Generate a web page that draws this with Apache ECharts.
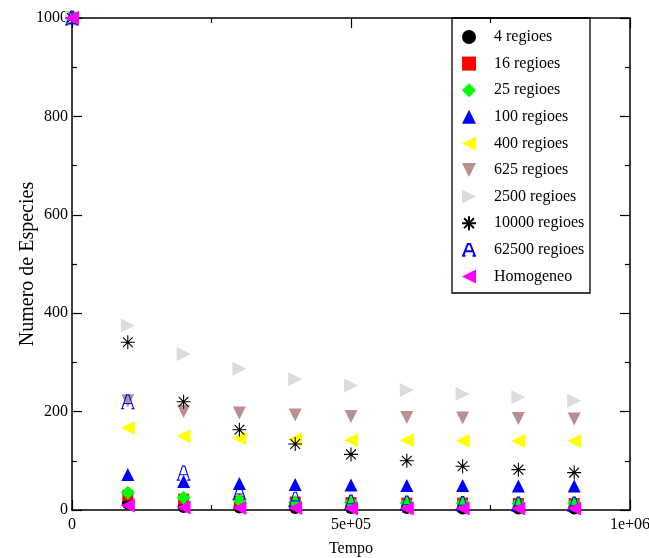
<!DOCTYPE html>
<html><head><meta charset="utf-8">
<script src="https://cdn.jsdelivr.net/npm/echarts@6/dist/echarts.min.js"></script>
<style>html,body{margin:0;padding:0;background:#fff;overflow:hidden}#c{width:649px;height:558px}</style>
</head><body><div id="c"></div><script>
const time = [0, 100000, 200000, 300000, 400000, 500000, 600000, 700000, 800000, 900000];
const s4 = [1000, 13, 6, 5, 4, 4, 4, 3, 3, 3];
const s16 = [1000, 30, 22, 18, 16, 15, 14, 14, 13, 13];
const s25 = [1000, 35, 25, 20, 16, 15, 14, 14, 13, 13];
const s100 = [1000, 72, 58, 54, 52, 51, 50, 50, 49, 49];
const s400 = [1000, 167, 150, 146, 144, 142, 142, 141, 140, 140];
const s625 = [1000, 222, 200, 197, 193, 190, 188, 187, 186, 185];
const s2500 = [1000, 375, 317, 287, 266, 253, 244, 236, 229, 222];
const s10000 = [1000, 341, 220, 163, 134, 113, 100, 89, 82, 76];
const s62500 = [1000, 220, 75, 36, 22, 16, 14, 13, 12, 12];
const homog = [1000, 9, 5, 4, 4, 3, 3, 3, 3, 3];
const seriesNames = ['4 regioes','16 regioes','25 regioes','100 regioes','400 regioes','625 regioes','2500 regioes','10000 regioes','62500 regioes','Homogeneo'];
const xTickValues = [0, 500000, 1000000];
const xTickLabels = ['0', '5e+05', '1e+06'];

const FONT = '"Liberation Serif", "DejaVu Serif", serif';
const pts = arr => time.map((t, i) => [t, arr[i]]);
const LEFT = 'path://M0,5 L10,0 L10,10 Z';
const RIGHT = 'path://M0,0 L10,5 L0,10 Z';
const DOWN = 'path://M0,0 L10,0 L5,10 Z';
const STAR = 'path://M5,0 L5,10 M0,5 L10,5 M1.5,1.5 L8.5,8.5 M8.5,1.5 L1.5,8.5';
const LETTER_A = 'path://M0,10 L4,0 L6,0 L10,10 M2,6.2 L8,6.2 M-1,10 L2,10 M8,10 L11,10';

const defs = [
  {data: s4, symbol: 'circle', size: 12, color: '#000000'},
  {data: s16, symbol: 'rect', size: 11, color: '#ff0000'},
  {data: s25, symbol: 'diamond', size: 14, color: '#00ff00'},
  {data: s100, symbol: 'triangle', size: 13, color: '#0000ff'},
  {data: s400, symbol: LEFT, size: 14, color: '#ffff00'},
  {data: s625, symbol: DOWN, size: 13, color: '#bc8f8f'},
  {data: s2500, symbol: RIGHT, size: 14, color: '#dcdcdc'},
  {data: s10000, symbol: STAR, size: 14, color: '#000000', stroke: true},
  {data: s62500, symbol: LETTER_A, size: 14, color: '#0000ff', stroke: true},
  {data: homog, symbol: LEFT, size: 14, color: '#ff00ff'}
];

const series = defs.map((d, i) => ({
  name: seriesNames[i],
  type: 'scatter',
  data: pts(d.data),
  symbol: d.symbol,
  symbolSize: d.size,
  itemStyle: d.stroke ? {color: 'rgba(0,0,0,0)', borderColor: d.color, borderWidth: 1.1, opacity: 1}
                      : {color: d.color, opacity: 1},
  emphasis: {disabled: true},
  z: 2 + i
}));

const axisCommon = {
  axisLine: {show: true, onZero: false, lineStyle: {color: '#000', width: 1.5}},
  axisTick: {show: true, inside: true, length: 10, lineStyle: {color: '#000', width: 1.2}},
  minorTick: {show: true, splitNumber: 2, length: 5, lineStyle: {color: '#000', width: 1.2}},
  splitLine: {show: false}
};

const chart = echarts.init(document.getElementById('c'), null, {renderer: 'canvas'});
chart.setOption({
  animation: false,
  backgroundColor: '#fff',
  grid: {left: 72, right: 19, top: 18, bottom: 48, containLabel: false, outerBoundsMode: 'none'},
  xAxis: [
    Object.assign({}, axisCommon, {
      type: 'value', min: 0, max: 1000000, interval: 500000, position: 'bottom',
      name: 'Tempo', nameLocation: 'middle', nameGap: 31, nameMoveOverlap: false,
      nameTextStyle: {fontFamily: FONT, fontSize: 16, color: '#000'},
      axisLabel: {show: true, margin: 7, fontFamily: FONT, fontSize: 16, color: '#000',
        formatter: v => { const k = xTickValues.indexOf(v); return k >= 0 ? xTickLabels[k] : ''; }}
    }),
    Object.assign({}, axisCommon, {
      type: 'value', min: 0, max: 1000000, interval: 500000, position: 'top',
      axisLabel: {show: false}
    })
  ],
  yAxis: [
    Object.assign({}, axisCommon, {
      type: 'value', min: 0, max: 1000, interval: 200, position: 'left',
      name: 'Numero de Especies', nameLocation: 'middle', nameGap: 34, nameMoveOverlap: false,
      nameTextStyle: {fontFamily: FONT, fontSize: 20, color: '#000'},
      axisLabel: {show: true, margin: 4, fontFamily: FONT, fontSize: 16, color: '#000',
        formatter: v => String(v)}
    }),
    Object.assign({}, axisCommon, {
      type: 'value', min: 0, max: 1000, interval: 200, position: 'right',
      axisLabel: {show: false}
    })
  ],
  legend: {
    orient: 'vertical', left: 461, top: 29, padding: 0,
    itemWidth: 14, itemHeight: 14, itemGap: 10.6,
    textStyle: {fontFamily: FONT, fontSize: 16, color: '#000', padding: [0, 0, 0, 13]},
    data: seriesNames, selectedMode: false
  },
  graphic: [{
    type: 'rect', z: 100, silent: true,
    shape: {x: 452, y: 18, width: 138, height: 275},
    style: {fill: 'none', stroke: '#000', lineWidth: 1.3}
  }],
  series: series
});
</script></body></html>
